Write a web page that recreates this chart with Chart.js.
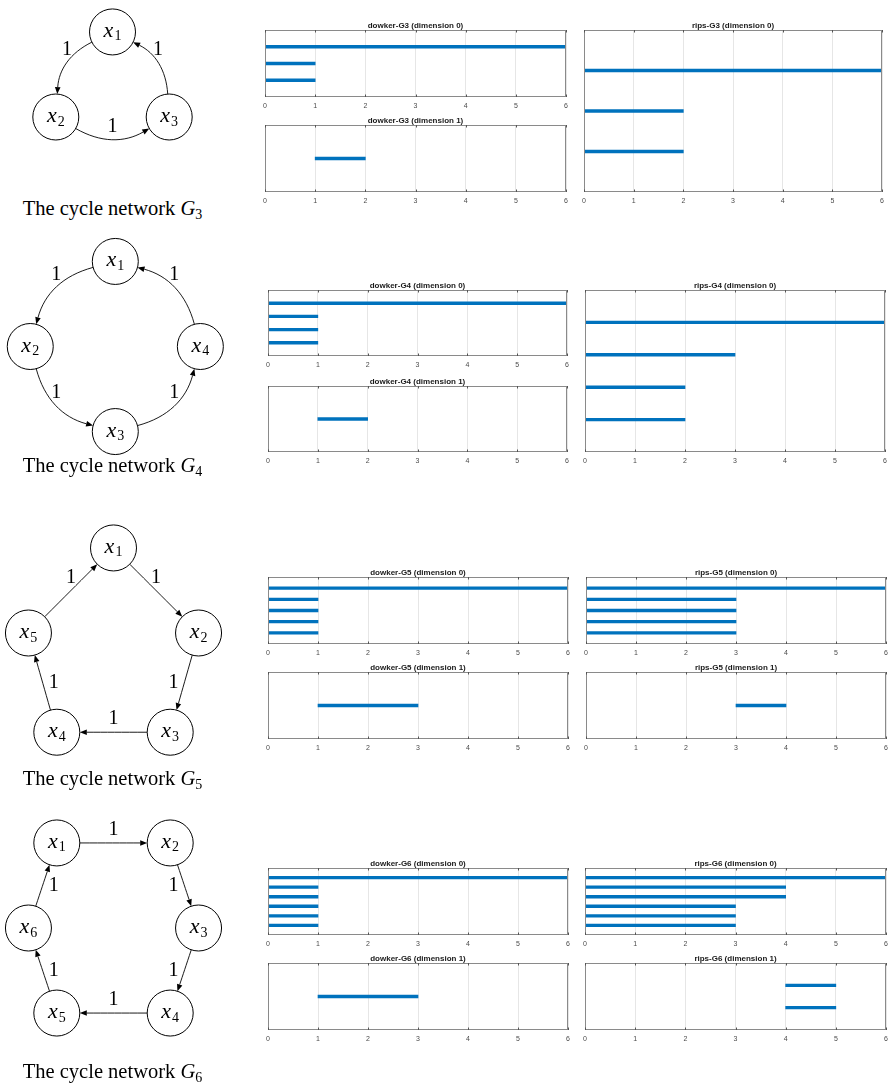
<!DOCTYPE html>
<html>
<head>
<meta charset="utf-8">
<script src="https://cdn.jsdelivr.net/npm/chart.js@4.4.1/dist/chart.umd.min.js"></script>
<style>
  html, body { margin: 0; padding: 0; background: #fff; }
  #page { position: relative; width: 890px; height: 1083px; overflow: hidden; background: #fff; }
  #page canvas { position: absolute; }
  .cap {
    position: absolute; white-space: nowrap; color: #000;
    font-family: "Liberation Serif", "Times New Roman", serif; font-size: 20.5px;
    transform: translate(-50%, -50%); line-height: 24px;
  }
  .cap i { font-style: italic; }
  .cap sub { font-size: 14px; vertical-align: -4px; line-height: 0; }
</style>
</head>
<body>
<div id="page"></div>
<script>
// ---------- barcode data: [birth, death] intervals, listed bottom bar first ----------
const axisTicks = [0, 1, 2, 3, 4, 5, 6];

const dowkerG3Dim0 = [[0, 1], [0, 1], [0, 6]];
const dowkerG3Dim1 = [[1, 2]];
const ripsG3Dim0   = [[0, 2], [0, 2], [0, 6]];

const dowkerG4Dim0 = [[0, 1], [0, 1], [0, 1], [0, 6]];
const dowkerG4Dim1 = [[1, 2]];
const ripsG4Dim0   = [[0, 2], [0, 2], [0, 3], [0, 6]];

const dowkerG5Dim0 = [[0, 1], [0, 1], [0, 1], [0, 1], [0, 6]];
const dowkerG5Dim1 = [[1, 3]];
const ripsG5Dim0   = [[0, 3], [0, 3], [0, 3], [0, 3], [0, 6]];
const ripsG5Dim1   = [[3, 4]];

const dowkerG6Dim0 = [[0, 1], [0, 1], [0, 1], [0, 1], [0, 1], [0, 6]];
const dowkerG6Dim1 = [[1, 3]];
const ripsG6Dim0   = [[0, 3], [0, 3], [0, 3], [0, 4], [0, 4], [0, 6]];
const ripsG6Dim1   = [[4, 5], [4, 5]];

// ---------- cycle networks: node coordinates (diagram units), edge weights x_i -> x_{i+1} ----------
const g3Nodes = [[0, 1.5], [-1, 0], [1, 0]];
const g4Nodes = [[0, 1.5], [-1.5, 0], [0, -1.5], [1.5, 0]];
const g5Nodes = [[0, 1.5], [1.5, 0], [1, -1.75], [-1, -1.75], [-1.5, 0]];
const g6Nodes = [[-1, 1.5], [1, 1.5], [1.5, 0], [1, -1.5], [-1, -1.5], [-1.5, 0]];

const g3Weights = [1, 1, 1];
const g4Weights = [1, 1, 1, 1];
const g5Weights = [1, 1, 1, 1, 1];
const g6Weights = [1, 1, 1, 1, 1, 1];

const g3LabelSides = ['above', 'above', 'above'];
const g4LabelSides = ['above', 'above', 'above', 'above'];
const g5LabelSides = ['above', 'left', 'above', 'right', 'above'];
const g6LabelSides = ['above', 'left', 'left', 'above', 'right', 'right'];

const page = document.getElementById('page');
const BLUE = '#0072BD';

function makeCanvas(left, top, w, h) {
  const cv = document.createElement('canvas');
  cv.width = w; cv.height = h;
  cv.style.left = left + 'px'; cv.style.top = top + 'px';
  cv.style.width = w + 'px'; cv.style.height = h + 'px';
  page.appendChild(cv);
  return cv;
}

// box, inner tick marks and title of a barcode panel
const panelFrame = {
  id: 'panelFrame',
  afterDatasetsDraw(chart, args, opts) {
    const { ctx, chartArea: a, scales: { x } } = chart;
    ctx.save();
    ctx.strokeStyle = '#8a8a8a';
    ctx.lineWidth = 1;
    ctx.strokeRect(a.left + 0.5, a.top + 0.5, a.width - 1, a.height - 1);
    ctx.strokeStyle = '#555';
    ctx.beginPath();
    axisTicks.forEach(v => {
      const px = Math.round(x.getPixelForValue(v)) + 0.5;
      ctx.moveTo(px, a.top); ctx.lineTo(px, a.top + 2.5);
      ctx.moveTo(px, a.bottom); ctx.lineTo(px, a.bottom - 2.5);
    });
    ctx.stroke();
    ctx.fillStyle = '#1a1a1a';
    ctx.font = 'bold 8px "Liberation Sans", Arial, sans-serif';
    ctx.textAlign = 'center';
    ctx.textBaseline = 'alphabetic';
    ctx.fillText(opts.title, (a.left + a.right) / 2, a.top - 2);
    ctx.restore();
  }
};

function barcode(title, intervals, L, T, R, B) {
  const padL = 8, padR = 8, padT = 14, padB = 15;
  const cv = makeCanvas(L - padL, T - padT, (R - L) + padL + padR, (B - T) + padT + padB);
  new Chart(cv, {
    type: 'bar',
    data: {
      datasets: [{
        data: intervals.map((iv, i) => ({ x: iv, y: i + 1 })),
        backgroundColor: BLUE,
        borderWidth: 0,
        borderSkipped: false,
        barThickness: 2.7
      }]
    },
    options: {
      indexAxis: 'y',
      responsive: false,
      animation: false,
      devicePixelRatio: 1,
      events: [],
      layout: { autoPadding: false, padding: { left: padL, right: padR, top: padT, bottom: 0 } },
      plugins: {
        legend: { display: false },
        tooltip: { enabled: false },
        title: { display: false },
        panelFrame: { title }
      },
      scales: {
        x: {
          type: 'linear', min: axisTicks[0], max: axisTicks[axisTicks.length - 1],
          afterFit: s => { s.height = padB; },
          ticks: {
            stepSize: 1, autoSkip: false, maxRotation: 0, padding: 5,
            color: '#4a4a4a', font: { family: '"Liberation Sans", Arial, sans-serif', size: 7 }
          },
          grid: { color: '#e6e6e6', drawTicks: false, lineWidth: 1 },
          border: { display: false }
        },
        y: {
          type: 'linear', min: 0, max: intervals.length + 1, display: false,
          offset: false, grid: { offset: false }
        }
      }
    },
    plugins: [panelFrame]
  });
}

// ---------- cycle network diagram drawn on a scatter chart ----------
const U = 56.7;      // pixels per diagram unit
const NODE_R = 23;   // node radius in pixels

function edgeGeometry(A, B, beta, c) {
  const dx = B.x - A.x, dy = B.y - A.y, len = Math.hypot(dx, dy);
  const d = { x: dx / len, y: dy / len };
  let n = { x: -d.y, y: d.x };
  if (n.x * ((A.x + B.x) / 2 - c.x) + n.y * ((A.y + B.y) / 2 - c.y) < 0) n = { x: -n.x, y: -n.y };
  const cs = Math.cos(beta), sn = Math.sin(beta);
  const dOut = { x: d.x * cs + n.x * sn, y: d.y * cs + n.y * sn };
  const dIn = { x: d.x * cs - n.x * sn, y: d.y * cs - n.y * sn };
  const P0 = { x: A.x + NODE_R * dOut.x, y: A.y + NODE_R * dOut.y };
  const P3 = { x: B.x - NODE_R * dIn.x, y: B.y - NODE_R * dIn.y };
  const k = 0.3915 * Math.hypot(P3.x - P0.x, P3.y - P0.y);
  const P1 = { x: P0.x + k * dOut.x, y: P0.y + k * dOut.y };
  const P2 = { x: P3.x - k * dIn.x, y: P3.y - k * dIn.y };
  const mid = {
    x: (P0.x + 3 * P1.x + 3 * P2.x + P3.x) / 8,
    y: (P0.y + 3 * P1.y + 3 * P2.y + P3.y) / 8
  };
  return { P0, P1, P2, P3, dIn, mid };
}

const LABEL_SHIFT = { above: [0, -13], below: [0, 13], left: [-11, 0], right: [11, 0] };

const networkPlugin = {
  id: 'network',
  beforeDatasetsDraw(chart, args, opts) {
    const { ctx } = chart;
    const pts = chart.getDatasetMeta(0).data.map(p => ({ x: p.x, y: p.y }));
    const c = {
      x: pts.reduce((s, p) => s + p.x, 0) / pts.length,
      y: pts.reduce((s, p) => s + p.y, 0) / pts.length
    };
    ctx.save();
    ctx.strokeStyle = '#000'; ctx.fillStyle = '#000'; ctx.lineWidth = 0.9;
    chart.$edges = pts.map((A, i) => {
      const B = pts[(i + 1) % pts.length];
      const g = edgeGeometry(A, B, opts.bend * Math.PI / 180, c);
      const al = 7, aw = 2.8;
      const base = { x: g.P3.x - al * g.dIn.x, y: g.P3.y - al * g.dIn.y };
      ctx.beginPath();
      ctx.moveTo(g.P0.x, g.P0.y);
      ctx.bezierCurveTo(g.P1.x, g.P1.y, g.P2.x, g.P2.y, base.x, base.y);
      ctx.stroke();
      ctx.beginPath();
      ctx.moveTo(g.P3.x, g.P3.y);
      ctx.lineTo(base.x - aw * g.dIn.y, base.y + aw * g.dIn.x);
      ctx.lineTo(base.x + aw * g.dIn.y, base.y - aw * g.dIn.x);
      ctx.closePath();
      ctx.fill();
      return g;
    });
    ctx.restore();
  },
  afterDatasetsDraw(chart, args, opts) {
    const { ctx } = chart;
    const pts = chart.getDatasetMeta(0).data;
    ctx.save();
    ctx.fillStyle = '#000';
    // node names x_i
    pts.forEach((p, i) => {
      ctx.font = 'italic 22px "Liberation Serif", serif';
      const wx = ctx.measureText('x').width;
      ctx.font = '14px "Liberation Serif", serif';
      const sub = String(i + 1);
      const ws = ctx.measureText(sub).width;
      const sx = p.x - (wx + ws + 1) / 2;
      ctx.textAlign = 'left';
      ctx.textBaseline = 'alphabetic';
      ctx.font = 'italic 22px "Liberation Serif", serif';
      ctx.fillText('x', sx, p.y + 5);
      ctx.font = '14px "Liberation Serif", serif';
      ctx.fillText(sub, sx + wx + 1, p.y + 8.5);
    });
    // edge weights
    ctx.font = '20px "Liberation Serif", serif';
    ctx.textAlign = 'center';
    ctx.textBaseline = 'middle';
    (chart.$edges || []).forEach((g, i) => {
      const s = LABEL_SHIFT[opts.sides[i]];
      ctx.fillText(String(opts.weights[i]), g.mid.x + s[0], g.mid.y + s[1]);
    });
    ctx.restore();
  }
};

function network(nodes, weights, sides, bend, ox, oy, top, bottom, caption, capY) {
  const W = 240;
  const cv = makeCanvas(0, top, W, bottom - top);
  new Chart(cv, {
    type: 'scatter',
    data: {
      datasets: [{
        data: nodes.map(([u, v]) => ({ x: u, y: v })),
        pointRadius: NODE_R, pointHoverRadius: NODE_R,
        pointBackgroundColor: '#fff', pointBorderColor: '#000', pointBorderWidth: 1,
        clip: false
      }]
    },
    options: {
      responsive: false, animation: false, devicePixelRatio: 1, events: [],
      layout: { autoPadding: false, padding: 0 },
      plugins: {
        legend: { display: false }, tooltip: { enabled: false },
        network: { weights, sides, bend }
      },
      scales: {
        x: { type: 'linear', display: false, min: -ox / U, max: (W - ox) / U },
        y: { type: 'linear', display: false, min: (oy - bottom) / U, max: (oy - top) / U }
      }
    },
    plugins: [networkPlugin]
  });
  const d = document.createElement('div');
  d.className = 'cap';
  d.style.left = '112.5px';
  d.style.top = capY + 'px';
  d.innerHTML = 'The cycle network <i>G</i><sub>' + caption + '</sub>';
  page.appendChild(d);
}

// ---------- row G3 ----------
network(g3Nodes, g3Weights, g3LabelSides, 30, 112.5, 117, 0, 170, '3', 208);
barcode('dowker-G3 (dimension 0)', dowkerG3Dim0, 265, 30, 566, 97);
barcode('dowker-G3 (dimension 1)', dowkerG3Dim1, 265, 125, 566, 192);
barcode('rips-G3 (dimension 0)', ripsG3Dim0, 584, 30, 882, 192);

// ---------- row G4 ----------
network(g4Nodes, g4Weights, g4LabelSides, 30, 115.3, 346.5, 220, 470, '4', 465);
barcode('dowker-G4 (dimension 0)', dowkerG4Dim0, 268, 290, 567, 356);
barcode('dowker-G4 (dimension 1)', dowkerG4Dim1, 268, 386, 567, 452);
barcode('rips-G4 (dimension 0)', ripsG4Dim0, 585, 290, 885, 452);

// ---------- row G5 ----------
network(g5Nodes, g5Weights, g5LabelSides, 0, 113.5, 633, 510, 765, '5', 778);
barcode('dowker-G5 (dimension 0)', dowkerG5Dim0, 268, 577, 568, 644);
barcode('dowker-G5 (dimension 1)', dowkerG5Dim1, 268, 672, 568, 739);
barcode('rips-G5 (dimension 0)', ripsG5Dim0, 586, 577, 886, 644);
barcode('rips-G5 (dimension 1)', ripsG5Dim1, 586, 672, 886, 739);

// ---------- row G6 ----------
network(g6Nodes, g6Weights, g6LabelSides, 0, 113.5, 928, 800, 1050, '6', 1071);
barcode('dowker-G6 (dimension 0)', dowkerG6Dim0, 268, 868, 568, 935);
barcode('dowker-G6 (dimension 1)', dowkerG6Dim1, 268, 963, 568, 1030);
barcode('rips-G6 (dimension 0)', ripsG6Dim0, 585, 868, 886, 935);
barcode('rips-G6 (dimension 1)', ripsG6Dim1, 585, 963, 886, 1030);
</script>
</body>
</html>
